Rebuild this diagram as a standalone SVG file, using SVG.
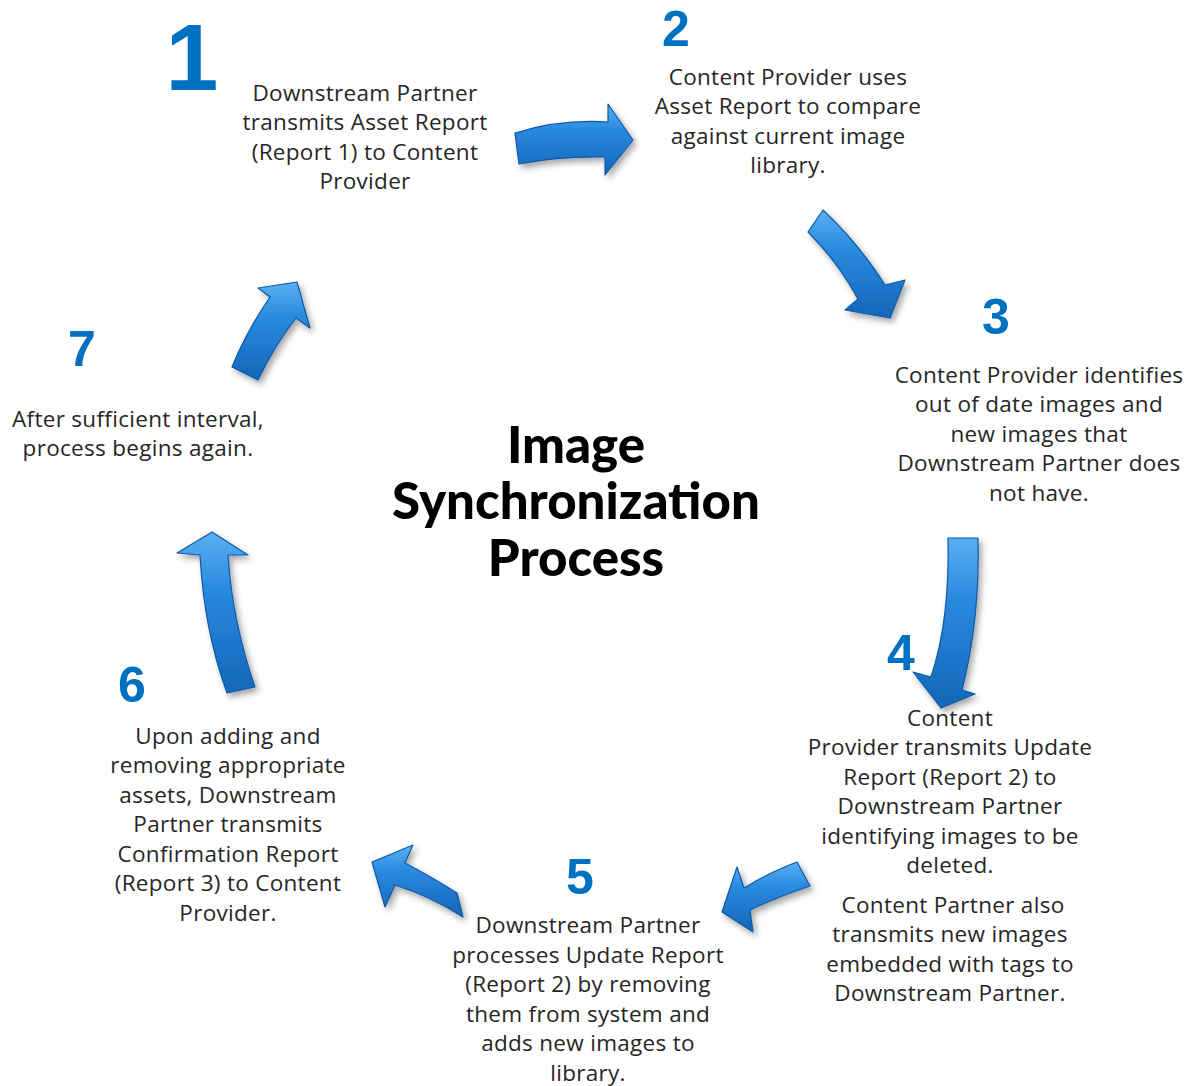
<svg xmlns="http://www.w3.org/2000/svg" width="1193" height="1086" viewBox="0 0 1193 1086">
<defs>
<linearGradient id="ag" x1="0" y1="0" x2="0" y2="1">
<stop offset="0" stop-color="#5BB0F2"/>
<stop offset="0.35" stop-color="#2A8AE0"/>
<stop offset="1" stop-color="#1466B8"/>
</linearGradient>
<filter id="sh" x="-30%" y="-30%" width="160%" height="160%">
<feDropShadow dx="3" dy="4" stdDeviation="3" flood-color="#000" flood-opacity="0.35"/>
</filter>
<style>
.t{font-family:"Open Sans",Lato,"Liberation Sans",sans-serif;font-size:22.5px;letter-spacing:0.3px;fill:#262626;text-anchor:middle}
.n{font-family:"Liberation Sans",Arial,sans-serif;font-weight:bold;fill:#0070C0;text-anchor:middle}
.ti{font-family:Lato,"Liberation Sans",sans-serif;font-weight:900;font-size:51px;fill:#000;text-anchor:middle}
.arr{fill:url(#ag);stroke:#0E5AA6;stroke-width:1.2;stroke-linejoin:round;filter:url(#sh)}
</style>
</defs>
<rect width="1193" height="1086" fill="#fff"/>

<g id="title">
<text class="ti" x="576" y="463">Image</text>
<text class="ti" x="576" y="519">Synchronization</text>
<text class="ti" x="576" y="576">Process</text>
</g>

<g id="connectors">
<path class="arr" d="M515,133 Q560,119 608,122 L608,104 L633,140 L605,175 L605,157 Q560,156 519,164 Z"/>
<path class="arr" d="M823,210 Q860,245 885,285 L905,280 L890,318 L845,310 L858,299 Q838,262 808,232 Z"/>
<path class="arr" d="M948,538 L978,538 Q980,620 962,690 L975,694 L941,708 L913,672 L931,677 Q950,620 948,538 Z"/>
<path class="arr" d="M797,862 L810,886 Q780,896 750,910 L753,932 L722,912 L737,867 L744,888 Q770,872 797,862 Z"/>
<path class="arr" d="M463,917 L457,893 Q430,876 405,863 L413,845 L372,862 L385,907 L395,885 Q430,896 463,917 Z"/>
<path class="arr" d="M227,693 L255,687 Q232,620 228,555 L248,555 L212,532 L177,553 L200,555 Q204,630 227,693 Z"/>
<path class="arr" d="M232,367 L258,380 Q275,345 296,318 L310,328 L297,282 L258,288 L270,297 Q246,332 232,367 Z"/>
</g>

<g id="step1">
<text class="n" x="192" y="90" font-size="95">1</text>
<text class="t" x="365" y="101">Downstream Partner</text>
<text class="t" x="365" y="130">transmits Asset Report</text>
<text class="t" x="365" y="160">(Report 1) to Content</text>
<text class="t" x="365" y="189">Provider</text>
</g>
<g id="step2">
<text class="n" x="676" y="46" font-size="50">2</text>
<text class="t" x="788" y="85">Content Provider uses</text>
<text class="t" x="788" y="114">Asset Report to compare</text>
<text class="t" x="788" y="144">against current image</text>
<text class="t" x="788" y="173">library.</text>
</g>
<g id="step3">
<text class="n" x="996" y="334" font-size="50">3</text>
<text class="t" x="1039" y="383">Content Provider identifies</text>
<text class="t" x="1039" y="412">out of date images and</text>
<text class="t" x="1039" y="442">new images that</text>
<text class="t" x="1039" y="471">Downstream Partner does</text>
<text class="t" x="1039" y="501">not have.</text>
</g>
<g id="step4">
<text class="n" x="901" y="670" font-size="50">4</text>
<text class="t" x="950" y="726">Content</text>
<text class="t" x="950" y="755">Provider transmits Update</text>
<text class="t" x="950" y="785">Report (Report 2) to</text>
<text class="t" x="950" y="814">Downstream Partner</text>
<text class="t" x="950" y="844">identifying images to be</text>
<text class="t" x="950" y="873">deleted.</text>
<text class="t" x="953" y="913">Content Partner also</text>
<text class="t" x="950" y="942">transmits new images</text>
<text class="t" x="950" y="972">embedded with tags to</text>
<text class="t" x="950" y="1001">Downstream Partner.</text>
</g>
<g id="step5">
<text class="n" x="580" y="894" font-size="50">5</text>
<text class="t" x="588" y="933">Downstream Partner</text>
<text class="t" x="588" y="963">processes Update Report</text>
<text class="t" x="588" y="992">(Report 2) by removing</text>
<text class="t" x="588" y="1022">them from system and</text>
<text class="t" x="588" y="1051">adds new images to</text>
<text class="t" x="588" y="1081">library.</text>
</g>
<g id="step6">
<text class="n" x="132" y="702" font-size="50">6</text>
<text class="t" x="228" y="744">Upon adding and</text>
<text class="t" x="228" y="773">removing appropriate</text>
<text class="t" x="228" y="803">assets, Downstream</text>
<text class="t" x="228" y="832">Partner transmits</text>
<text class="t" x="228" y="862">Confirmation Report</text>
<text class="t" x="228" y="891">(Report 3) to Content</text>
<text class="t" x="228" y="921">Provider.</text>
</g>
<g id="step7">
<text class="n" x="82" y="366" font-size="50">7</text>
<text class="t" x="138" y="427">After sufficient interval,</text>
<text class="t" x="138" y="456">process begins again.</text>
</g>
</svg>
